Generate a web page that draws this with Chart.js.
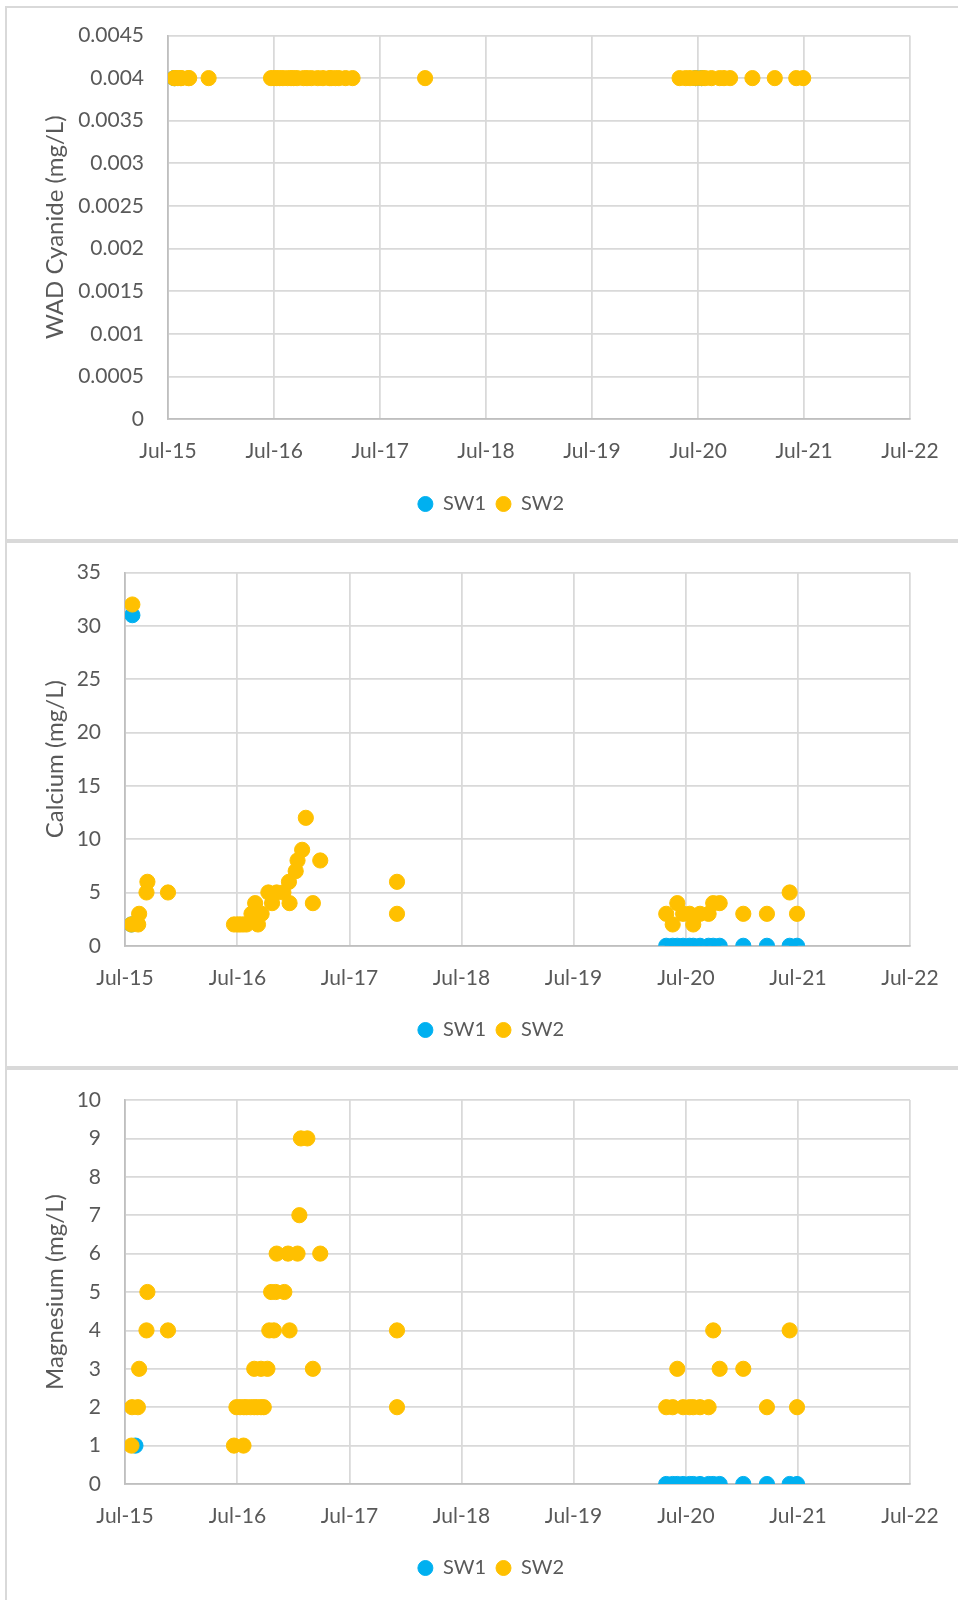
<!DOCTYPE html>
<html><head><meta charset="utf-8">
<script src="https://cdn.jsdelivr.net/npm/chart.js@4.4.0/dist/chart.umd.min.js"></script>
<style>
html,body{margin:0;padding:0;background:#fff;overflow:hidden;width:958px;height:1600px;position:relative}
.panel{position:absolute;left:5px;width:1000px;border:2px solid #d9d9d9;box-sizing:border-box}
canvas{position:absolute;left:0}
</style></head><body>
<div class="panel" style="top:6px;height:535px"></div>
<div class="panel" style="top:541px;height:527px"></div>
<div class="panel" style="top:1068px;height:600px"></div>
<canvas id="c1" width="958" height="540" style="top:0px"></canvas>
<canvas id="c2" width="958" height="526" style="top:541px"></canvas>
<canvas id="c3" width="958" height="532" style="top:1068px"></canvas>
<script>
// ---------- axis labels ----------
const seriesNames = ['SW1', 'SW2'];
const xTickLabels = ['Jul-15','Jul-16','Jul-17','Jul-18','Jul-19','Jul-20','Jul-21','Jul-22'];
const xTickDates  = ['2015-07-01','2016-07-01','2017-07-01','2018-07-01','2019-07-01','2020-07-01','2021-07-01','2022-07-01'];
const cyanideTicks   = ['0','0.0005','0.001','0.0015','0.002','0.0025','0.003','0.0035','0.004','0.0045'];
const calciumTicks   = ['0','5','10','15','20','25','30','35'];
const magnesiumTicks = ['0','1','2','3','4','5','6','7','8','9','10'];

// ---------- WAD Cyanide ----------
const cyanideDatesSW1 = ['2015-07-22','2015-07-25','2020-06-22','2020-07-13'];
const cyanideSW1      = [0.004, 0.004, 0.004, 0.004];
const cyanideDatesSW2 = ['2015-07-22','2015-07-25','2015-08-04','2015-08-13','2015-08-16','2015-09-09','2015-09-12','2015-11-18',
  '2016-06-20','2016-07-01','2016-07-10','2016-07-20','2016-07-31','2016-08-16','2016-08-28','2016-09-06','2016-09-18','2016-10-10',
  '2016-10-22','2016-11-06','2016-11-28','2016-12-16','2017-01-07','2017-01-13','2017-01-28','2017-02-09','2017-03-04','2017-03-28',
  '2017-12-03',
  '2020-04-28','2020-05-19','2020-06-03','2020-06-22','2020-07-13','2020-07-25','2020-08-16','2020-09-13','2020-09-28','2020-10-19',
  '2021-01-04','2021-03-22','2021-06-04','2021-06-28'];
const cyanideSW2 = [0.004,0.004,0.004,0.004,0.004,0.004,0.004,0.004,
  0.004,0.004,0.004,0.004,0.004,0.004,0.004,0.004,0.004,0.004,
  0.004,0.004,0.004,0.004,0.004,0.004,0.004,0.004,0.004,0.004,
  0.004,
  0.004,0.004,0.004,0.004,0.004,0.004,0.004,0.004,0.004,0.004,
  0.004,0.004,0.004,0.004];

// ---------- Calcium ----------
const calciumDatesSW1 = ['2015-07-22','2015-07-25',
  '2020-04-28','2020-05-19','2020-06-03','2020-06-22','2020-07-13','2020-07-25','2020-08-16','2020-09-13','2020-09-28','2020-10-19',
  '2021-01-04','2021-03-22','2021-06-04','2021-06-28'];
const calciumSW1 = [2, 31, 0,0,0,0,0,0,0,0,0,0, 0,0,0,0];
const calciumDatesSW2 = ['2015-07-22','2015-07-25','2015-08-13','2015-08-16','2015-09-09','2015-09-12','2015-11-18',
  '2016-06-20','2016-07-01','2016-07-10','2016-07-20','2016-07-31','2016-08-16','2016-08-28','2016-09-06','2016-09-18','2016-10-10',
  '2016-10-22','2016-11-06','2016-11-28','2016-12-16','2016-12-18','2017-01-07','2017-01-13','2017-01-28','2017-02-09','2017-03-04','2017-03-28',
  '2017-12-03','2017-12-03',
  '2020-04-28','2020-05-19','2020-06-03','2020-06-22','2020-07-13','2020-07-25','2020-08-16','2020-09-13','2020-09-28','2020-10-19',
  '2021-01-04','2021-03-22','2021-06-04','2021-06-28'];
const calciumSW2 = [2,32,2,3,5,6,5,
  2,2,2,2,2,3,4,2,3,5,
  4,5,5,6,4,7,8,9,12,4,8,
  6,3,
  3,2,4,3,3,2,3,3,4,4,
  3,3,5,3];

// ---------- Magnesium ----------
const magnesiumDatesSW1 = ['2015-08-04',
  '2020-04-28','2020-05-19','2020-06-03','2020-06-22','2020-07-13','2020-07-25','2020-08-16','2020-09-13','2020-09-28','2020-10-19',
  '2021-01-04','2021-03-22','2021-06-04','2021-06-28'];
const magnesiumSW1 = [1, 0,0,0,0,0,0,0,0,0,0, 0,0,0,0];
const magnesiumDatesSW2 = ['2015-07-22','2015-07-24','2015-08-12','2015-08-16','2015-09-09','2015-09-12','2015-11-18',
  '2016-06-20','2016-07-21','2016-06-28','2016-07-10','2016-07-22','2016-07-31','2016-08-13','2016-08-25','2016-09-04','2016-09-16','2016-09-25',
  '2016-08-25','2016-09-16','2016-10-07','2016-10-13','2016-10-28','2016-12-18','2016-10-19','2016-11-03','2016-12-01',
  '2016-11-06','2016-12-13','2017-01-13','2017-03-28','2017-01-19','2017-01-24','2017-02-14','2017-03-04',
  '2017-12-03','2017-12-03',
  '2020-04-28','2020-05-19','2020-06-03','2020-06-22','2020-07-13','2020-07-25','2020-08-16','2020-09-13','2020-09-28','2020-10-19',
  '2021-01-04','2021-03-22','2021-06-04','2021-06-28'];
const magnesiumSW2 = [1,2,2,3,4,5,4,
  1,1,2,2,2,2,2,2,2,2,2,
  3,3,3,4,4,4,5,5,5,
  6,6,6,6,7,9,9,3,
  4,2,
  2,2,3,2,2,2,2,2,4,3,
  3,2,4,2];

// ---------- drawing ----------
const TXT = '#595959';
const toTime = d => Date.parse(d + 'T00:00:00Z');
const toPts = (dates, vals) => dates.map((d, i) => ({x: toTime(d), y: vals[i]}));

function makeChart(id, c) {
  new Chart(document.getElementById(id), {
    type: 'scatter',
    data: {datasets: [
      {label: seriesNames[0], data: toPts(c.d1, c.v1), backgroundColor: '#00B0F0', borderColor: '#00B0F0', order: 1},
      {label: seriesNames[1], data: toPts(c.d2, c.v2), backgroundColor: '#FFC000', borderColor: '#FFC000', order: 0}
    ]},
    options: {
      responsive: false, animation: false, devicePixelRatio: 1,
      layout: {padding: {left: 72, right: 48, top: c.top, bottom: c.pb}},
      elements: {point: {radius: 7.6, hoverRadius: 7.6, borderWidth: 1}},
      plugins: {
        legend: {position: 'bottom', labels: {usePointStyle: true, pointStyle: 'circle', boxHeight: 10.6, pointStyleWidth: 15,
          font: {family: 'Lato', size: 20}, color: TXT, padding: 10,
          sort: (a, b) => a.datasetIndex - b.datasetIndex}},
        tooltip: {enabled: false}
      },
      scales: {
        x: {
          type: 'linear', min: toTime(xTickDates[0]), max: toTime(xTickDates[xTickDates.length - 1]),
          afterBuildTicks: ax => { ax.ticks = xTickDates.map(d => ({value: toTime(d)})); },
          ticks: {callback: (v, i) => xTickLabels[i], font: {family: 'Lato', size: 21}, color: TXT, padding: 0, maxRotation: 0, autoSkip: false},
          grid: {color: '#d9d9d9', lineWidth: 1.75, drawTicks: true, tickLength: 20, tickColor: 'rgba(0,0,0,0)'},
          border: {color: '#bfbfbf', width: 1.75},
          afterFit: s => { s.height = c.xh; }
        },
        y: {
          min: 0, max: parseFloat(c.ticks[c.ticks.length - 1]),
          afterBuildTicks: ax => { ax.ticks = c.ticks.map(t => ({value: parseFloat(t)})); },
          ticks: {callback: (v, i) => c.ticks[i], font: {family: 'Lato', size: 21}, color: TXT, padding: 0, autoSkip: false},
          grid: {color: '#d9d9d9', lineWidth: 1.75, drawTicks: true, tickLength: 24, tickColor: 'rgba(0,0,0,0)'},
          border: {color: '#bfbfbf', width: 1.75},
          title: {display: true, text: c.title, font: {family: 'Lato', size: 24}, color: TXT, padding: {top: -31, bottom: 0}},
          afterFit: s => { s.width = c.yw; }
        }
      }
    }
  });
}

makeChart('c1', {d1: cyanideDatesSW1, v1: cyanideSW1, d2: cyanideDatesSW2, v2: cyanideSW2, ticks: cyanideTicks,
  title: 'WAD Cyanide (mg/L)', top: 35.5, pb: 16, xh: 65, yw: 96});
makeChart('c2', {d1: calciumDatesSW1, v1: calciumSW1, d2: calciumDatesSW2, v2: calciumSW2, ticks: calciumTicks,
  title: 'Calcium (mg/L)', top: 31.5, pb: 17, xh: 64.2, yw: 53});
makeChart('c3', {d1: magnesiumDatesSW1, v1: magnesiumSW1, d2: magnesiumDatesSW2, v2: magnesiumSW2, ticks: magnesiumTicks,
  title: 'Magnesium (mg/L)', top: 32, pb: 12, xh: 64, yw: 53});
</script>
</body></html>
